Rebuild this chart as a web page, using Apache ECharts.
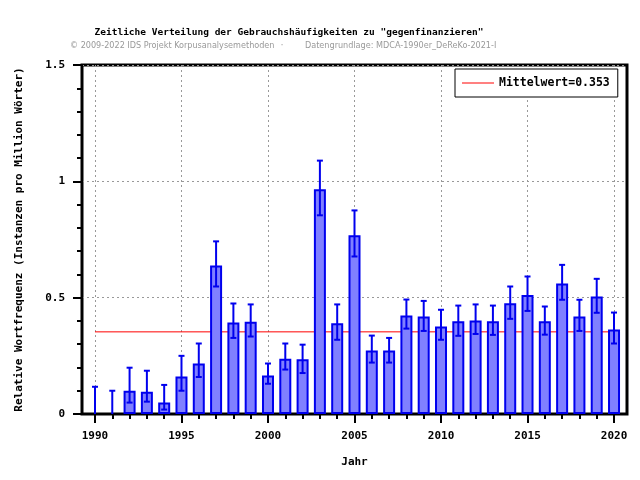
<!DOCTYPE html>
<html>
<head>
<meta charset="utf-8">
<script src="https://cdn.jsdelivr.net/npm/echarts@6/dist/echarts.min.js"></script>
<style>html,body{margin:0;padding:0;background:#fff}#c{width:640px;height:480px}</style>
</head>
<body>
<div id="c"></div>
<script>
// ---- data ----
var years = [1990,1991,1992,1993,1994,1995,1996,1997,1998,1999,2000,2001,2002,2003,2004,2005,2006,2007,2008,2009,2010,2011,2012,2013,2014,2015,2016,2017,2018,2019,2020];
var freq  = [0,0,0.100,0.096,0.049,0.161,0.217,0.638,0.393,0.397,0.165,0.238,0.235,0.966,0.390,0.768,0.273,0.273,0.423,0.419,0.376,0.399,0.402,0.399,0.476,0.511,0.399,0.561,0.419,0.505,0.363];
var errLow  = [0,0,0.049,0.053,0.019,0.100,0.159,0.548,0.327,0.333,0.130,0.191,0.176,0.854,0.319,0.677,0.221,0.221,0.367,0.357,0.319,0.336,0.344,0.340,0.409,0.443,0.341,0.491,0.357,0.435,0.303];
var errHigh = [0.117,0.100,0.199,0.186,0.125,0.250,0.303,0.742,0.475,0.471,0.217,0.303,0.298,1.089,0.471,0.875,0.337,0.327,0.492,0.486,0.448,0.466,0.471,0.466,0.548,0.591,0.462,0.641,0.491,0.581,0.436];
var meanValue = 0.353;
var majorYearTicks = [1990,1995,2000,2005,2010,2015,2020];

var mono = "'DejaVu Sans Mono', 'Liberation Mono', monospace";
var narrow = "'Liberation Sans Narrow', 'DejaVu Sans Condensed', 'Liberation Sans', sans-serif";

var barData = years.map(function(y,i){ return [y, freq[i] > 0 ? freq[i] : '-']; });
var errData = years.map(function(y,i){ return [y, errLow[i], errHigh[i]]; });

var chart = echarts.init(document.getElementById('c'), null, {renderer:'canvas'});
chart.setOption({
  animation: false,
  backgroundColor: '#fff',
  graphic: [
    {type:'text', x:289, y:33, style:{text:'Zeitliche Verteilung der Gebrauchshäufigkeiten zu "gegenfinanzieren"', font:'bold 9.5px '+mono, fill:'#000', textAlign:'center', textVerticalAlign:'middle'}},
    {type:'text', x:70, y:46, style:{text:'© 2009-2022 IDS Projekt Korpusanalysemethoden', font:'9px '+narrow, fill:'#999', textAlign:'left', textVerticalAlign:'middle'}},
    {type:'text', x:282, y:46, style:{text:'·', font:'9px '+narrow, fill:'#999', textAlign:'center', textVerticalAlign:'middle'}},
    {type:'text', x:305, y:46, style:{text:'Datengrundlage: MDCA-1990er_DeReKo-2021-I', font:'9px '+narrow, fill:'#999', textAlign:'left', textVerticalAlign:'middle'}}
  ],
  grid: {left:82, right:13, top:65, bottom:66, show:true, borderColor:'#000', borderWidth:3, backgroundColor:'transparent'},
  legend: {
    left:455, top:69, orient:'horizontal',
    padding:[8,8,8,7], itemWidth:32, itemHeight:1, icon:'rect',
    borderColor:'#000', borderWidth:1, backgroundColor:'#fff',
    textStyle:{fontFamily:mono, fontWeight:'bold', fontSize:11.5, color:'#000'},
    data:[{name:'Mittelwert=' + meanValue.toFixed(3), icon:'rect'}]
  },
  xAxis: [{
    type:'value', min:1989.25, max:2020.75,
    name:'Jahr', nameLocation:'middle', nameGap:43,
    nameTextStyle:{fontFamily:mono, fontWeight:'bold', fontSize:11, color:'#000'},
    axisLine:{show:true, onZero:false, lineStyle:{color:'#000', width:2}},
    axisTick:{show:true, length:9, customValues:majorYearTicks, lineStyle:{color:'#000', width:2}},
    axisLabel:{show:true, customValues:majorYearTicks, margin:17, fontFamily:mono, fontWeight:'bold', fontSize:11, color:'#000', formatter:function(v){return String(v);}},
    splitLine:{show:true, lineStyle:{color:'#999', width:1, type:[2,3]}}
  },{
    type:'value', min:1989.25, max:2020.75, position:'bottom',
    axisLine:{show:false}, axisLabel:{show:false}, splitLine:{show:false},
    axisTick:{show:true, length:5, customValues:years, lineStyle:{color:'#000', width:2}}
  }],
  yAxis: {
    type:'value', min:0, max:1.5, interval:0.5,
    name:'Relative Wortfrequenz (Instanzen pro Million Wörter)', nameLocation:'middle', nameGap:57, nameRotate:90,
    nameTextStyle:{fontFamily:mono, fontWeight:'bold', fontSize:11, color:'#000'},
    axisLine:{show:true, lineStyle:{color:'#000', width:2}},
    axisTick:{show:true, length:9, lineStyle:{color:'#000', width:2}},
    minorTick:{show:true, splitNumber:5, length:5, lineStyle:{color:'#000', width:2}},
    axisLabel:{margin:17, fontFamily:mono, fontWeight:'bold', fontSize:11, color:'#000', formatter:function(v){return String(v);}},
    splitLine:{show:true, lineStyle:{color:'#999', width:1, type:[2,3]}}
  },
  series: [
    {
      name:'Mittelwert=' + meanValue.toFixed(3), type:'line', symbol:'none', z:1,
      data:[[years[0], meanValue],[years[years.length-1], meanValue]],
      lineStyle:{color:'#ff0000', width:1}, itemStyle:{color:'#ff0000'}
    },
    {
      name:'freq', type:'bar', barWidth:12, z:2,
      data: barData,
      itemStyle:{color:'#8080ff', borderColor:'#0000ee', borderWidth:2}
    },
    {
      name:'err', type:'custom', z:3,
      data: errData,
      renderItem:function(params, api){
        var x = api.value(0);
        var lo = api.coord([x, api.value(1)]);
        var hi = api.coord([x, api.value(2)]);
        var cw = 3;
        var st = {stroke:'#0000ee', lineWidth:2};
        var ch = [
          {type:'line', shape:{x1:lo[0], y1:lo[1], x2:hi[0], y2:hi[1]}, style:st},
          {type:'line', shape:{x1:hi[0]-cw, y1:hi[1], x2:hi[0]+cw, y2:hi[1]}, style:st}
        ];
        if (api.value(1) > 0) ch.push({type:'line', shape:{x1:lo[0]-cw, y1:lo[1], x2:lo[0]+cw, y2:lo[1]}, style:st});
        return {type:'group', children:ch};
      }
    }
  ]
});
</script>
</body>
</html>
